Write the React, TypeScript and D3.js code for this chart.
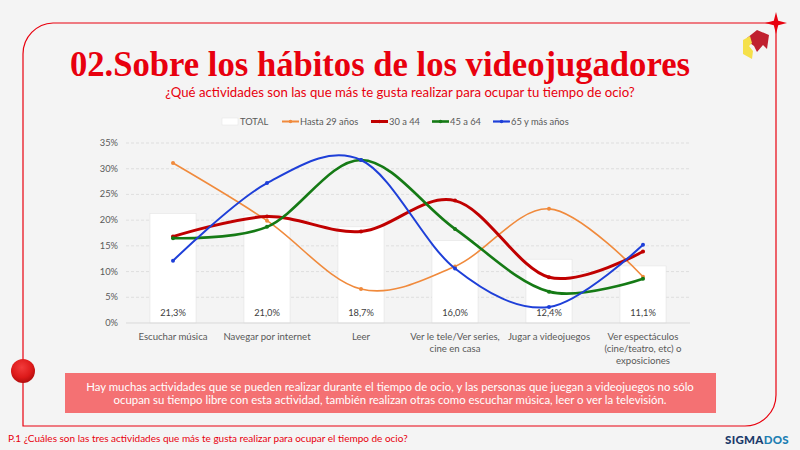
import React from "react";
import * as d3 from "d3";

const categories: string[][] = [
  ["Escuchar música"],
  ["Navegar por internet"],
  ["Leer"],
  ["Ver le tele/Ver series,", "cine en casa"],
  ["Jugar a videojuegos"],
  ["Ver espectáculos", "(cine/teatro, etc) o", "exposiciones"],
];
const total = [21.3, 21.0, 18.7, 16.0, 12.4, 11.1];
const hasta29 = [31.1, 19.9, 6.6, 11.0, 22.2, 9.0];
const de30a44 = [16.8, 20.7, 17.8, 23.8, 8.9, 13.9];
const de45a64 = [16.5, 18.7, 31.7, 18.3, 6.1, 8.6];
const mas65 = [12.1, 27.2, 31.7, 10.6, 3.1, 15.2];
const yTicks = [0, 5, 10, 15, 20, 25, 30, 35];

const series = [
  { name: "Hasta 29 años", values: hasta29, color: "#F08A3C", width: 1.6 },
  { name: "30 a 44", values: de30a44, color: "#C00000", width: 3 },
  { name: "45 a 64", values: de45a64, color: "#157A15", width: 2.6 },
  { name: "65 y más años", values: mas65, color: "#1E3FD8", width: 2 },
];

const SANS = "Lato, 'Noto Sans', sans-serif";
const RED = "#E8000E";
const GRAY = "#595959";

export default function App() {
  const x = d3
    .scaleBand<number>()
    .domain(d3.range(categories.length))
    .range([126, 690])
    .paddingInner(0.51)
    .paddingOuter(0.255);
  const xc = (i: number) => (x(i) as number) + x.bandwidth() / 2;
  const y = d3.scaleLinear().domain([0, 35]).range([323, 143]);
  const line = d3
    .line<number>()
    .x((_, i) => xc(i))
    .y((d) => y(d))
    .curve(d3.curveCardinal.tension(0));

  const legend = [
    { name: "TOTAL", x: 222, type: "rect", color: "#fff", w: 0 },
    { name: series[0].name, x: 282, type: "line", color: series[0].color, w: 2 },
    { name: series[1].name, x: 371, type: "line", color: series[1].color, w: 3 },
    { name: series[2].name, x: 432, type: "line", color: series[2].color, w: 2.6 },
    { name: series[3].name, x: 493, type: "line", color: series[3].color, w: 2.2 },
  ];

  const star = (cx: number, cy: number, r: number, w: number) =>
    `M${cx},${cy - r} L${cx + w},${cy - w} L${cx + r},${cy} L${cx + w},${cy + w} L${cx},${cy + r} L${cx - w},${cy + w} L${cx - r},${cy} L${cx - w},${cy - w} Z`;

  return (
    <div style={{ position: "fixed", left: 0, top: 0 }}>
      <svg width={800} height={450} style={{ display: "block" }}>
        <defs>
          <radialGradient id="dot" cx="45%" cy="35%" r="70%">
            <stop offset="0%" stopColor="#F23B3B" />
            <stop offset="60%" stopColor="#DD1A1A" />
            <stop offset="100%" stopColor="#A80A0A" />
          </radialGradient>
        </defs>
        <rect width={800} height={450} fill="#F4F4F4" />

        {/* frame */}
        <path
          d="M53,23 H776 V395 A31,31 0 0 1 745,426 H23 V54 A31,31 0 0 1 53,23 Z"
          fill="none"
          stroke={RED}
          strokeWidth={1.2}
        />
        <path d={star(776, 23, 11, 2.2)} fill={RED} />
        <circle cx={23} cy={371} r={12} fill="url(#dot)" />

        {/* logo */}
        <polygon points="747,38 757,30 769,35 767,49 763,45 757,52 754,46 750,43" fill="#C0202F" />
        <polygon points="743,40 750,36 752,43 749,46 753,51 752,59 743,54" fill="#F5E04A" />

        {/* title */}
        <text
          x={70}
          y={76}
          textLength={620}
          lengthAdjust="spacingAndGlyphs"
          fontFamily="'Liberation Serif', 'DejaVu Serif', serif"
          fontWeight="bold"
          fontSize={35}
          fill={RED}
        >
          02.Sobre los hábitos de los videojugadores
        </text>
        <text x={400} y={97} textAnchor="middle" fontFamily={SANS} fontSize={13.2} fill={RED}>
          ¿Qué actividades son las que más te gusta realizar para ocupar tu tiempo de ocio?
        </text>

        {/* legend */}
        {legend.map((l) => (
          <g key={l.name}>
            {l.type === "rect" ? (
              <rect x={l.x} y={118} width={16} height={7} fill="#fff" stroke="#E6E6E6" strokeWidth={0.6} />
            ) : (
              <g>
                <line x1={l.x} x2={l.x + 17} y1={121.5} y2={121.5} stroke={l.color} strokeWidth={l.w} />
                <circle cx={l.x + 8.5} cy={121.5} r={1.8} fill={l.color} />
              </g>
            )}
            <text x={l.x + 18} y={124.5} fontFamily={SANS} fontSize={9.3} fill={GRAY}>
              {l.name}
            </text>
          </g>
        ))}

        {/* grid */}
        {yTicks.map((t) => (
          <g key={t}>
            {t > 0 && (
              <line x1={126} x2={690} y1={y(t)} y2={y(t)} stroke="#D9D9D9" strokeWidth={0.8} strokeDasharray="3,2" />
            )}
            <text x={118} y={y(t) + 3} textAnchor="end" fontFamily={SANS} fontSize={9.3} fill={GRAY}>
              {t}%
            </text>
          </g>
        ))}

        {/* bars */}
        {total.map((v, i) => (
          <g key={i}>
            <rect
              x={x(i)}
              y={y(v)}
              width={x.bandwidth()}
              height={y(0) - y(v)}
              fill="#FFFFFF"
              stroke="#E4E4E4"
              strokeWidth={0.6}
            />
            <text x={xc(i)} y={316} textAnchor="middle" fontFamily={SANS} fontSize={9.3} fill="#404040">
              {v.toFixed(1).replace(".", ",")}%
            </text>
          </g>
        ))}
        <line x1={126} x2={690} y1={y(0)} y2={y(0)} stroke="#D9D9D9" strokeWidth={1} />

        {/* lines */}
        {series.map((s) => (
          <g key={s.name}>
            <path d={line(s.values) || ""} fill="none" stroke={s.color} strokeWidth={s.width} strokeLinecap="round" />
            {s.values.map((v, i) => (
              <circle key={i} cx={xc(i)} cy={y(v)} r={2} fill={s.color} />
            ))}
          </g>
        ))}

        {/* category labels */}
        {categories.map((c, i) => (
          <text key={i} x={xc(i)} y={339.5} textAnchor="middle" fontFamily={SANS} fontSize={9.6} fill={GRAY}>
            {c.map((ln, j) => (
              <tspan key={j} x={xc(i)} dy={j === 0 ? 0 : 12}>
                {ln}
              </tspan>
            ))}
          </text>
        ))}

        {/* callout */}
        <rect x={65} y={373} width={651} height={40} fill="#F47173" />
        <text x={390} y={391} textAnchor="middle" fontFamily={SANS} fontSize={11.4} fill="#FFFFFF">
          <tspan x={390}>
            Hay muchas actividades que se pueden realizar durante el tiempo de ocio, y las personas que juegan a videojuegos no sólo
          </tspan>
          <tspan x={390} dy={13}>
            ocupan su tiempo libre con esta actividad, también realizan otras como escuchar música, leer o ver la televisión.
          </tspan>
        </text>

        {/* footer */}
        <text x={8} y={442} fontFamily={SANS} fontSize={10} fill={RED}>
          P.1 ¿Cuáles son las tres actividades que más te gusta realizar para ocupar el tiempo de ocio?
        </text>
        <text x={789} y={444} textAnchor="end" fontFamily={SANS} fontWeight="900" fontSize={11.5} letterSpacing={0.3}>
          <tspan fill="#1B3A6B">SIGMA</tspan>
          <tspan fill="#1D7FB3">DOS</tspan>
        </text>
      </svg>
    </div>
  );
}
